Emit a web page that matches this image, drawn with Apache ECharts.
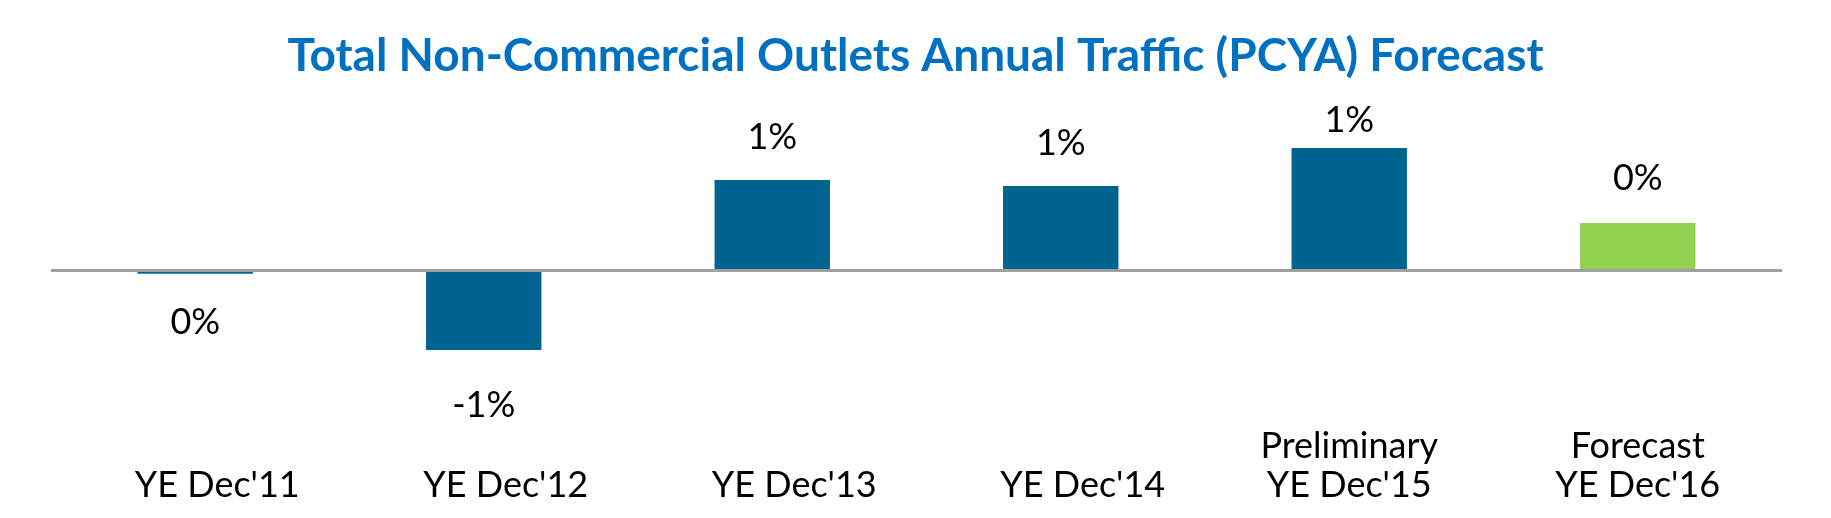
<!DOCTYPE html>
<html>
<head>
<meta charset="utf-8">
<script src="https://cdn.jsdelivr.net/npm/echarts@6/dist/echarts.min.js"></script>
<style>
html,body{margin:0;padding:0;background:#fff;}
#chart{width:1831px;height:518px;}
</style>
</head>
<body>
<div id="chart"></div>
<script>
const TITLE = "Total Non-Commercial Outlets Annual Traffic (PCYA) Forecast";
const categories = ["YE Dec'11", "YE Dec'12", "YE Dec'13", "YE Dec'14", "Preliminary\nYE Dec'15", "Forecast\nYE Dec'16"];
const values = [-0.037, -0.8, 0.90, 0.84, 1.22, 0.47];
const isForecast = [false, false, false, false, false, true];

const BLUE = '#006491';
const GREEN = '#92D050';
const labelGap = [31, 37, 25, 25, 10, 27];

const chart = echarts.init(document.getElementById('chart'));
chart.setOption({
  backgroundColor: '#ffffff',
  animation: false,
  title: {
    text: TITLE,
    left: 'center',
    top: 28,
    textStyle: { fontFamily: 'Lato', fontWeight: 'bold', fontSize: 46, color: '#0070C0' }
  },
  grid: { left: 51, right: 49, top: 100, bottom: 58, containLabel: false, outerBoundsMode: 'none' },
  xAxis: {
    type: 'category',
    data: categories,
    axisLine: { show: false, onZero: false },
    axisTick: { show: false },
    axisLabel: {
      interval: 0,
      margin: 45,
      verticalAlign: 'bottom',
      lineHeight: 39,
      fontFamily: 'Lato',
      fontSize: 36,
      color: '#000000',
      formatter: v => v.indexOf('\n') < 0 ? `{s|${v}}` : v,
      rich: {
        s: { fontFamily: 'Lato', fontSize: 36, lineHeight: 39, color: '#000000', padding: [0, 0, 0, 44] }
      }
    }
  },
  yAxis: {
    type: 'value',
    min: -1.9,
    max: 1.7,
    show: false,
    splitLine: { show: false }
  },
  series: [{
    type: 'bar',
    barWidth: '40%',
    data: values.map((v, i) => ({
      value: v,
      itemStyle: { color: isForecast[i] ? GREEN : BLUE },
      label: { position: v < 0 ? 'bottom' : 'top', distance: labelGap[i] }
    })),
    label: {
      show: true,
      fontFamily: 'Lato',
      fontSize: 36,
      color: '#000000',
      formatter: p => `${Math.round(p.value) || 0}%`
    },
    markLine: {
      silent: true,
      symbol: 'none',
      label: { show: false },
      lineStyle: { color: '#A0A0A0', width: 3, type: 'solid' },
      data: [{ yAxis: 0 }]
    }
  }]
});
</script>
</body>
</html>
